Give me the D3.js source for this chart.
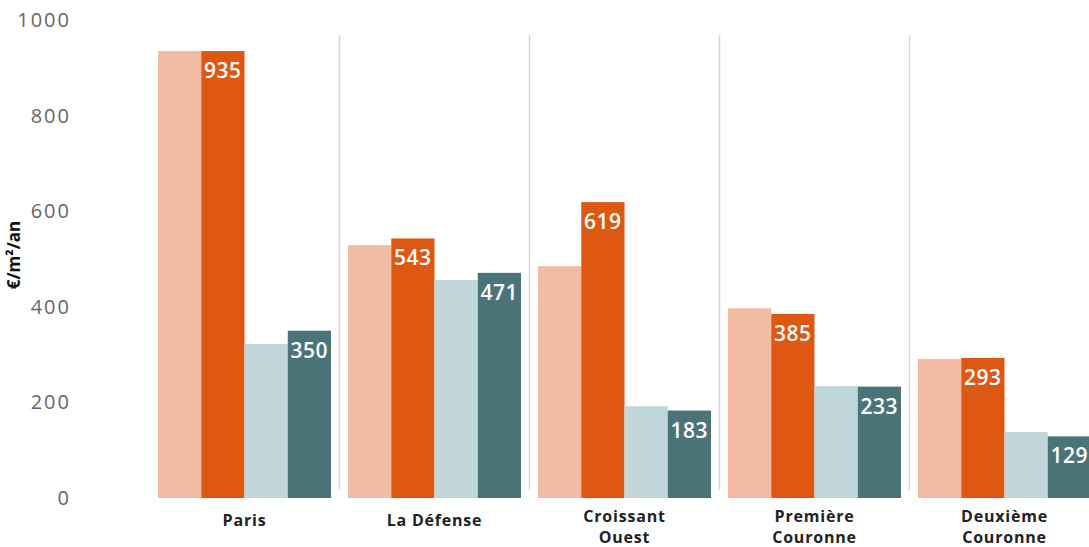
<!DOCTYPE html>
<html>
<head>
<meta charset="utf-8">
<script src="https://cdn.jsdelivr.net/npm/d3@7"></script>
<style>
  body { margin: 0; background: #fff; }
  svg { display: block; font-family: "Open Sans", sans-serif; }
</style>
</head>
<body>
<div id="chart"></div>
<script>
// categories (two-line labels split with "|")
var categories = ["Paris", "La Défense", "Croissant|Ouest", "Première|Couronne", "Deuxième|Couronne"];
var seriesKeys = ["s1", "s2", "s3", "s4"];
var series1 = [935, 529, 485, 397, 291];
var series2 = [935, 543, 619, 385, 293];
var series3 = [322, 456, 192, 234, 138];
var series4 = [350, 471, 183, 233, 129];
var yTicks = [0, 200, 400, 600, 800, 1000];
var labelledSeries = ["s2", "s4"];

var colors = { s1: "#F2BCA2", s2: "#DE5713", s3: "#C1D6DB", s4: "#4B7478" };

var width = 1089, height = 547;
var margin = { top: 20, bottom: 49, left: 158 };

var svg = d3.select("#chart").append("svg")
	.attr("width", width)
	.attr("height", height);

var data = categories.map(function(c, i) {
	return { cat: c, s1: series1[i], s2: series2[i], s3: series3[i], s4: series4[i] };
});

var x0 = d3.scaleBand()
	.domain(categories)
	.range([margin.left, margin.left + 190 * 5 - 17])
	.paddingInner(17 / 190)
	.paddingOuter(0);

var x1 = d3.scaleBand()
	.domain(seriesKeys)
	.range([0, x0.bandwidth()]);

var y = d3.scaleLinear()
	.domain([0, 1000])
	.range([height - margin.bottom, margin.top]);

// separators between groups
var gap = x0.step() - x0.bandwidth();
svg.selectAll(".sep")
	.data(categories.slice(1))
	.enter()
	.append("line")
	.attr("x1", function(d) { return x0(d) - gap / 2; })
	.attr("x2", function(d) { return x0(d) - gap / 2; })
	.attr("y1", 35)
	.attr("y2", y(0) - 8)
	.attr("stroke", "#d6d6d6")
	.attr("stroke-width", 1.5);

// y axis ticks
var yAxis = d3.axisLeft(y).tickValues(yTicks).tickFormat(d3.format("d")).tickSize(0).tickPadding(0);
var gy = svg.append("g")
	.attr("transform", "translate(71,0)")
	.call(yAxis);
gy.select(".domain").remove();
gy.selectAll("text")
	.attr("fill", "#666")
	.style("font-size", "20px")
	.style("letter-spacing", "2px")
	.style("font-family", "'Open Sans', sans-serif");

// y title
svg.append("text")
	.attr("transform", "translate(20,255) rotate(-90)")
	.attr("text-anchor", "middle")
	.attr("fill", "#111")
	.style("font-size", "17px")
	.style("font-weight", "bold")
	.text("€/m²/an");

// bars
var groups = svg.selectAll(".grp")
	.data(data)
	.enter()
	.append("g")
	.attr("transform", function(d) { return "translate(" + x0(d.cat) + ",0)"; });

groups.selectAll("rect")
	.data(function(d) { return seriesKeys.map(function(k) { return { key: k, value: d[k] }; }); })
	.enter()
	.append("rect")
	.attr("x", function(d) { return x1(d.key); })
	.attr("y", function(d) { return y(d.value); })
	.attr("width", x1.bandwidth())
	.attr("height", function(d) { return y(0) - y(d.value); })
	.attr("fill", function(d) { return colors[d.key]; });

// value labels
groups.selectAll(".val")
	.data(function(d) {
		return labelledSeries.map(function(k) { return { key: k, value: d[k] }; });
	})
	.enter()
	.append("text")
	.attr("x", function(d) { return x1(d.key) + x1.bandwidth() / 2; })
	.attr("y", function(d) { return y(d.value) + 27; })
	.attr("text-anchor", "middle")
	.attr("fill", "#fff")
	.style("font-size", "21px")
	.style("letter-spacing", "0.5px")
	.style("font-weight", "600")
	.text(function(d) { return d.value; });

// category labels
var catLabels = svg.selectAll(".cat")
	.data(categories)
	.enter()
	.append("text")
	.attr("x", function(d) { return x0(d) + x0.bandwidth() / 2; })
	.attr("y", function(d) { return d.indexOf("|") >= 0 ? 522 : 526; })
	.attr("text-anchor", "middle")
	.attr("fill", "#222")
	.style("font-size", "16px")
	.style("letter-spacing", "0.8px")
	.style("font-weight", "bold");

catLabels.each(function(d) {
	var parts = d.split("|");
	var t = d3.select(this);
	parts.forEach(function(p, i) {
		t.append("tspan")
			.attr("x", t.attr("x"))
			.attr("dy", i === 0 ? 0 : 21)
			.text(p);
	});
});
</script>
</body>
</html>
